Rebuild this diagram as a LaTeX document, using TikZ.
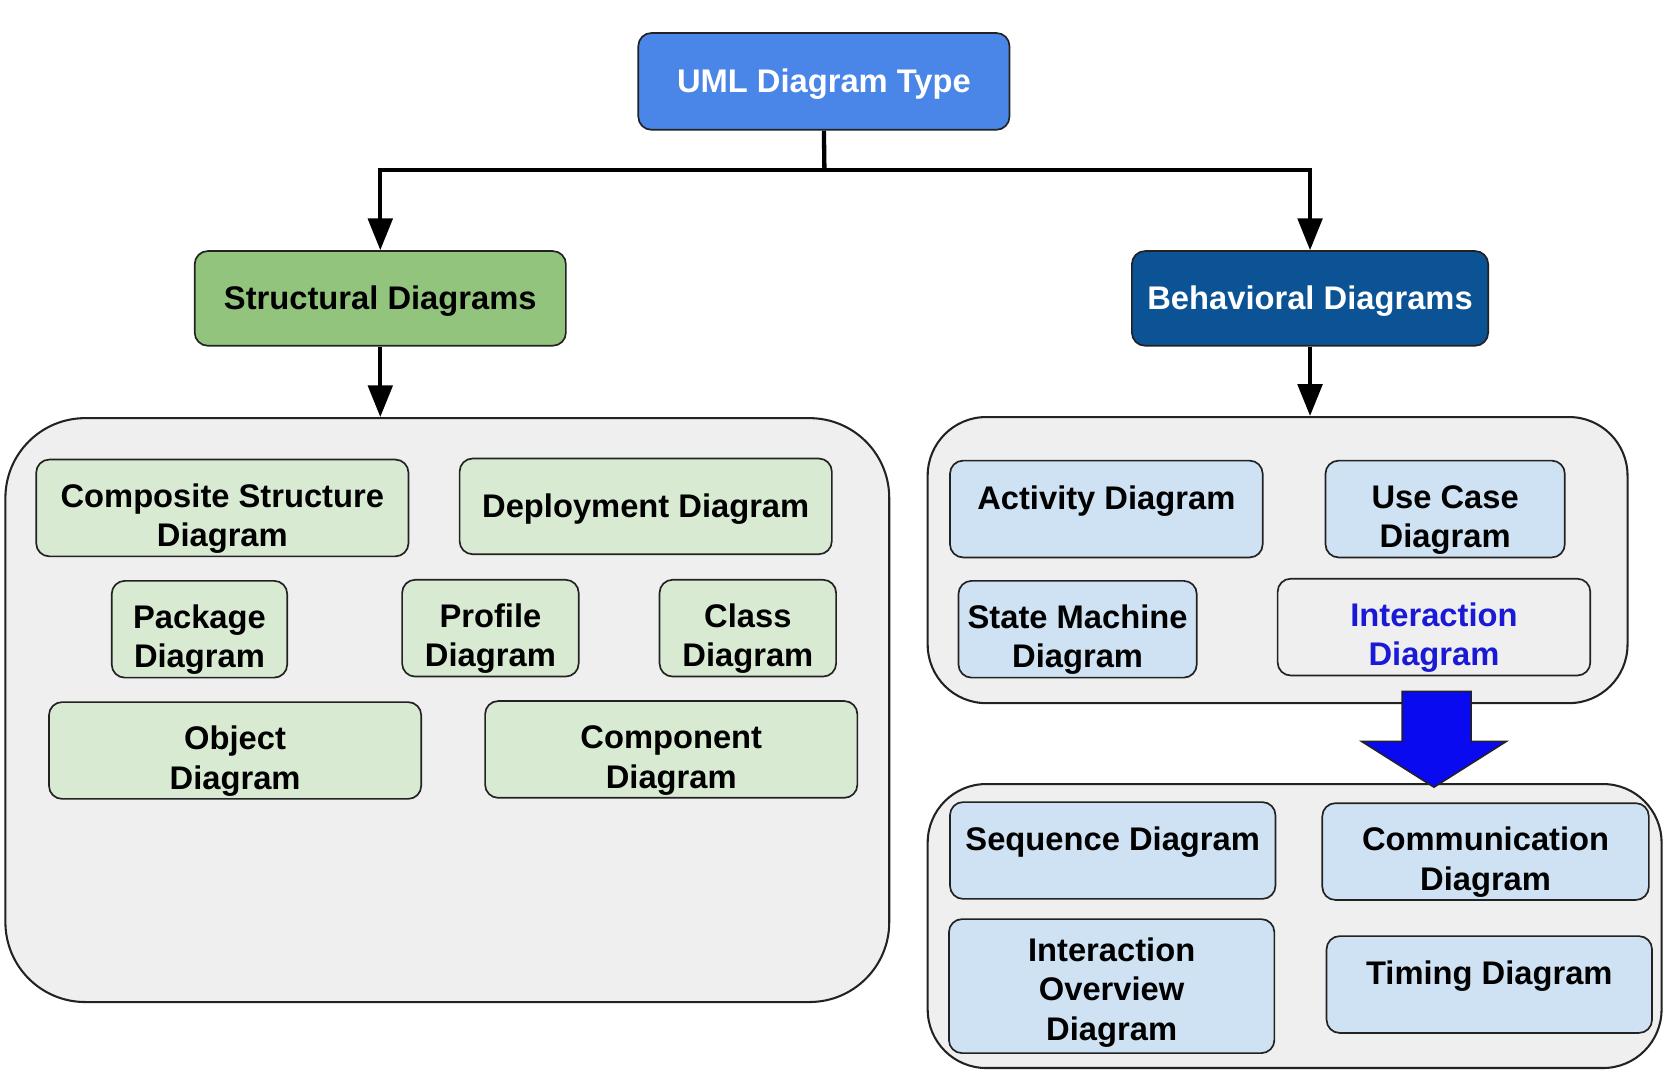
\documentclass[tikz,border=0pt]{standalone}
\usepackage{fontspec}
\setmainfont{Liberation Sans}
\usetikzlibrary{arrows.meta}
\definecolor{umlblue}{HTML}{4A86E8}
\definecolor{strgreen}{HTML}{93C47D}
\definecolor{behblue}{HTML}{0B5394}
\definecolor{lightgreen}{HTML}{D9EAD3}
\definecolor{lightblue}{HTML}{CFE2F3}
\definecolor{panelgray}{HTML}{EFEFEF}
\definecolor{boxline}{HTML}{222222}
\definecolor{intertext}{HTML}{1A1AD6}
\definecolor{bigblue}{HTML}{0A0AF0}
\tikzset{
	box/.style={draw=boxline, line width=0.9pt, rounded corners=7pt, align=center, inner sep=0pt,
		font=\bfseries\fontsize{17.5}{21}\selectfont, minimum height=1.82cm, text height=16pt},
	sbox/.style={box, fill=lightgreen},
	bbox/.style={box, fill=lightblue},
	upper/.style={text depth=16pt},
	twolines/.style={text height=45pt},
	panel/.style={draw=boxline, line width=1.1pt, fill=panelgray, inner sep=0pt},
	conn/.style={line width=2.3pt, -{Triangle[length=17pt,width=13pt]}},
}
\begin{document}
\begin{tikzpicture}[x=0.02cm,y=-0.02cm]
		\useasboundingbox (0,0) rectangle (1568,1015);

		\node[box, fill=umlblue, text=white, minimum width=6.98cm] (uml) at (774.5,76.5) {UML Diagram Type};
		\node[box, fill=strgreen, minimum width=6.98cm, minimum height=1.78cm] (str) at (357.5,280.5) {Structural Diagrams};
		\node[box, fill=behblue, text=white, minimum width=6.7cm, minimum height=1.78cm] (beh) at (1231.5,280.5) {Behavioral Diagrams};

		\coordinate (split) at (775,160);
		\draw[line width=2.3pt] (uml.south) -- (split);
		\draw[conn] (split) -| (str.north);
		\draw[conn] (split) -| (beh.north);

		% panels
		\node[panel, rounded corners=1.5cm, minimum width=16.62cm, minimum height=10.98cm] (spanel) at (420.5,667.5) {};
		\node[panel, rounded corners=1.1cm, minimum width=13.16cm, minimum height=5.38cm] (bpanel) at (1201,526.5) {};
		\node[panel, rounded corners=1.1cm, minimum width=13.8cm, minimum height=5.34cm] (ipanel) at (1217,870.5) {};

		\draw[conn] (str.south) -- (str.south |- spanel.north);
		\draw[conn] (beh.south) -- (beh.south |- bpanel.north);

		% structural
		\node[sbox, twolines, minimum width=7cm] (comp) at (209,477.5) {Composite Structure\\Diagram};
		\node[sbox, minimum width=7cm, minimum height=1.8cm] (depl) at (607,476) {Deployment Diagram};
		\node[sbox, twolines, minimum width=3.3cm] (pack) at (187.5,591.5) {Package\\Diagram};
		\node[sbox, twolines, minimum width=3.32cm] (prof) at (461,590.5) {Profile\\Diagram};
		\node[sbox, twolines, minimum width=3.32cm] (class) at (703,590.5) {Class\\Diagram};
		\node[sbox, twolines, minimum width=7cm] (obj) at (221,705.5) {Object\\Diagram};
		\node[sbox, twolines, minimum width=7cm] (compo) at (631,704.5) {Component\\Diagram};

		% behavioral
		\node[bbox, upper, minimum width=5.88cm] (act) at (1040,478.5) {Activity Diagram};
		\node[bbox, twolines, minimum width=4.5cm] (use) at (1358.5,478.5) {Use Case\\Diagram};
		\node[bbox, twolines, minimum width=4.48cm] (state) at (1013,591.5) {State Machine\\Diagram};
		\node[box, twolines, fill=panelgray, text=intertext, minimum width=5.88cm] (inter) at (1348,589.5) {Interaction\\Diagram};

		\draw[draw=boxline, line width=0.8pt, fill=bigblue] (1318,650) -- (1383,650) -- (1383,697) -- (1416,697)
			-- (1348,740) -- (1280,697) -- (1318,697) -- cycle;

		% interaction
		\node[bbox, upper, minimum width=6.12cm] (seq) at (1046,799.5) {Sequence Diagram};
		\node[bbox, twolines, minimum width=6.14cm] (comm) at (1396.5,800.5) {Communication\\Diagram};
		\node[bbox, minimum width=6.12cm, minimum height=2.52cm, text height=61.5pt] (iov) at (1045,927) {Interaction\\Overview\\Diagram};
		\node[bbox, upper, minimum width=6.12cm] (timing) at (1400,925.5) {Timing Diagram};

	\end{tikzpicture}
\end{document}
